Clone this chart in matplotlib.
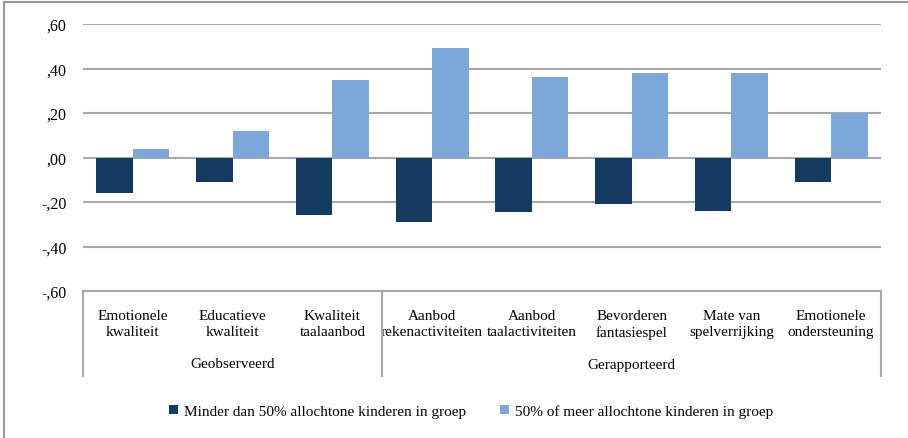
import matplotlib
matplotlib.use("Agg")
import matplotlib.pyplot as plt
from matplotlib.patches import Patch
from matplotlib.lines import Line2D
import numpy as np

categories = ["Emotionele\nkwaliteit", "Educatieve\nkwaliteit", "Kwaliteit\ntaalaanbod",
              "Aanbod\nrekenactiviteiten", "Aanbod\ntaalactiviteiten", "Bevorderen\nfantasiespel",
              "Mate van\nspelverrijking", "Emotionele\nondersteuning"]
groups = ["Geobserveerd", "Gerapporteerd"]
group_sizes = [3, 5]
series_names = ["Minder dan 50% allochtone kinderen in groep",
                "50% of meer allochtone kinderen in groep"]
minder = [-0.16, -0.11, -0.26, -0.29, -0.245, -0.21, -0.24, -0.11]
meer = [0.04, 0.12, 0.35, 0.49, 0.36, 0.38, 0.38, 0.20]
yticks = [-0.6, -0.4, -0.2, 0.0, 0.2, 0.4, 0.6]
ytick_labels = ["-,60", "-,40", "-,20", ",00", ",20", ",40", ",60"]

dark = "#153a62"
light = "#7ba8d9"
grid_c = "#a8a8a8"

SERIF = ['Liberation Serif', 'DejaVu Serif']
plt.rcParams['font.family'] = SERIF

W, H = 908, 439
fig = plt.figure(figsize=(W / 100, H / 100), dpi=100)
fig.patch.set_facecolor("white")

# outer border
fig.add_artist(Line2D([4 / W, 4 / W], [0, 1 - 3 / H], transform=fig.transFigure, color="#999999", lw=1.5))
fig.add_artist(Line2D([4 / W, 1], [1 - 3 / H, 1 - 3 / H], transform=fig.transFigure, color="#999999", lw=1.5))

left, right, top, bottom = 83, 881, 25, 292
ax = fig.add_axes([left / W, 1 - bottom / H, (right - left) / W, (bottom - top) / H])

x = np.arange(len(categories))
bw = 0.365
ax.bar(x - bw / 2, minder, bw, color=dark, zorder=3, label=series_names[0])
ax.bar(x + bw / 2, meer, bw, color=light, zorder=3, label=series_names[1])

ax.set_xlim(-0.5, len(categories) - 0.5)
ax.set_ylim(-0.6, 0.6)
ax.set_yticks(yticks)
ax.set_yticklabels(ytick_labels, fontsize=11.5, family=SERIF)
ax.yaxis.grid(True, color=grid_c, lw=1.5, zorder=0)
ax.set_axisbelow(True)
ax.tick_params(axis='y', length=0, pad=12)
ax.set_xticks(x)
ax.set_xticklabels(categories, fontsize=11, linespacing=1.25, va='top', family=SERIF)
ax.tick_params(axis='x', length=0, pad=13)
for s in ["left", "right", "top"]:
    ax.spines[s].set_visible(False)
ax.spines["bottom"].set_color(grid_c)
ax.spines["bottom"].set_linewidth(1.5)

# category axis box
box_bottom = -(377 - bottom) / (bottom - top)
trans = ax.get_xaxis_transform()
edges = [-0.5]
acc = -0.5
for g in group_sizes:
    acc += g
    edges.append(acc)
for e in edges:
    ax.add_line(Line2D([e, e], [0, box_bottom], transform=trans, color=grid_c, lw=1.5, clip_on=False))

# group labels
start = 0
for g, n in zip(groups, group_sizes):
    center = start + (n - 1) / 2
    ax.text(center, -(365 - bottom) / (bottom - top), g, transform=trans, ha='center', va='center',
            fontsize=11, family=SERIF)
    start += n

handles = [Patch(facecolor=dark, edgecolor='none'), Patch(facecolor=light, edgecolor='none')]
fig.legend(handles, series_names, loc='center', bbox_to_anchor=(471 / W, 1 - 412 / H),
           ncol=2, frameon=False, prop={'family': SERIF, 'size': 11}, handlelength=0.6, handleheight=0.6,
           handletextpad=0.4, columnspacing=2.2)

fig.savefig("out.png", dpi=100, facecolor="white")
